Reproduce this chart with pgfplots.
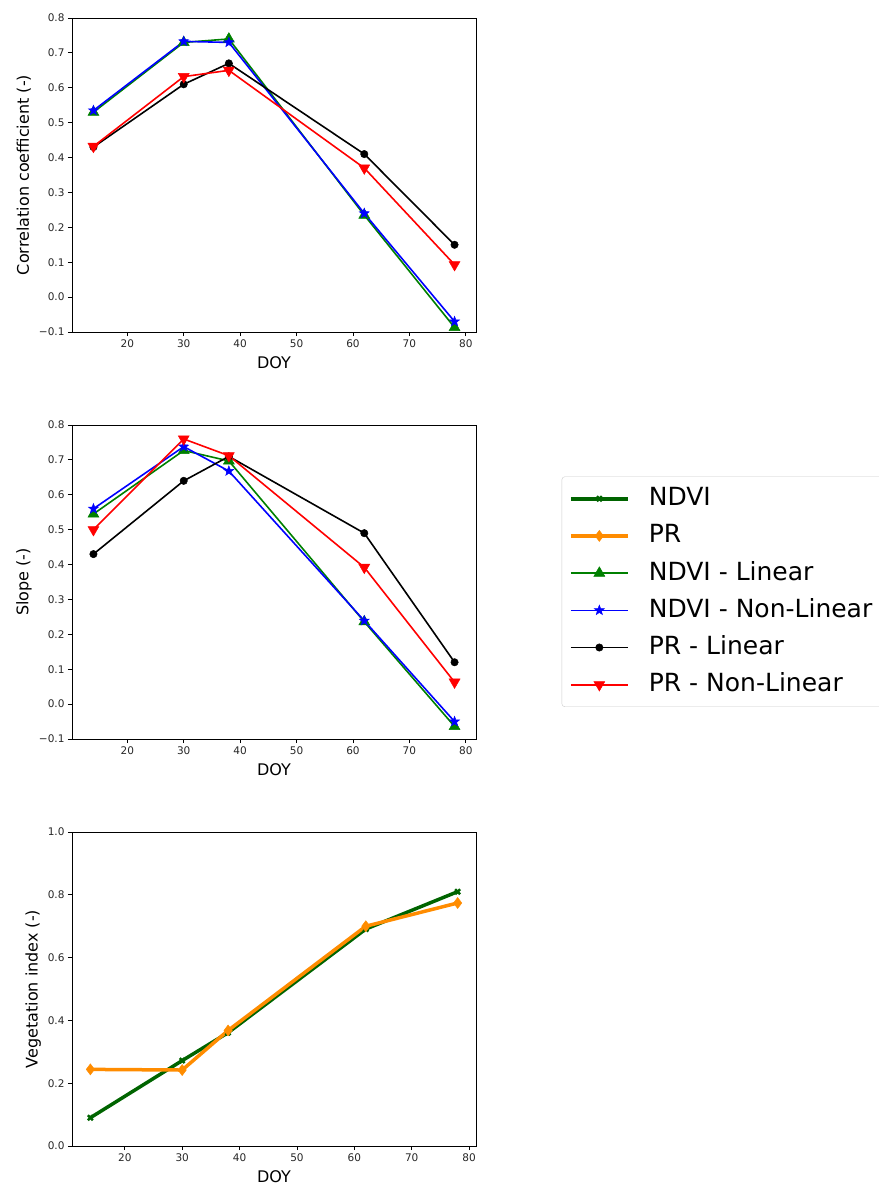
\documentclass[border=0pt]{standalone}
\usepackage{fontspec}
\setmainfont{DejaVu Sans}
\usepackage{pgfplots}
\pgfplotsset{compat=1.18}

\definecolor{mplgreen}{HTML}{008000}
\definecolor{dkgreen}{HTML}{006400}
\definecolor{dkorange}{HTML}{FF8C00}
\definecolor{mplblue}{HTML}{0000FF}
\definecolor{mplred}{HTML}{FF0000}

\pgfdeclareplotmark{fstar}{%
 \pgfpathmoveto{\pgfpointpolar{90}{\pgfplotmarksize}}%
 \pgfpathlineto{\pgfpointpolar{126}{0.42\pgfplotmarksize}}%
 \pgfpathlineto{\pgfpointpolar{162}{\pgfplotmarksize}}%
 \pgfpathlineto{\pgfpointpolar{198}{0.42\pgfplotmarksize}}%
 \pgfpathlineto{\pgfpointpolar{234}{\pgfplotmarksize}}%
 \pgfpathlineto{\pgfpointpolar{270}{0.42\pgfplotmarksize}}%
 \pgfpathlineto{\pgfpointpolar{306}{\pgfplotmarksize}}%
 \pgfpathlineto{\pgfpointpolar{342}{0.42\pgfplotmarksize}}%
 \pgfpathlineto{\pgfpointpolar{18}{\pgfplotmarksize}}%
 \pgfpathlineto{\pgfpointpolar{54}{0.42\pgfplotmarksize}}%
 \pgfpathclose
 \pgfusepathqfillstroke}

\pgfplotsset{
 mystyle/.style={
   scale only axis, width=404pt, height=314pt,
   xmin=10.2, xmax=81.8,
   xtick={20,30,...,80},
   tick align=outside, xtick pos=bottom, ytick pos=left,
   major tick length=4pt,
   tick style={black, line width=0.9pt},
   axis line style={line width=0.9pt},
   ticklabel style={font=\fontsize{10.5}{12}\selectfont, text=black!85},
   label style={font=\fontsize{16}{19}\selectfont},
   xlabel=DOY,
   xlabel style={at={(axis description cs:0.5,-0.099)}, anchor=center},
   ylabel style={at={(axis description cs:-0.119,0.5)}, anchor=center},
   /pgf/number format/assume math mode=true,
   legend image code/.code={\draw[mark repeat=2,mark phase=2,##1] plot coordinates {(0pt,0pt)(28.5pt,0pt)(57pt,0pt)};},
 },
 sgreen/.style={mplgreen, line width=1.6pt, mark=triangle*, mark size=6.3pt, mark options={solid, line width=0.5pt}},
 sblue/.style={mplblue, line width=1.6pt, mark=fstar, mark size=5.2pt, mark options={solid, line width=0.5pt}},
 sblack/.style={black, line width=1.6pt, mark=*, mark size=3.7pt, mark options={solid, line width=0.5pt}},
 sred/.style={mplred, line width=1.6pt, mark=triangle*, mark size=6.3pt, mark options={solid, rotate=180, line width=0.5pt}},
 sndvi/.style={dkgreen, line width=3.5pt, mark=x, mark size=3.5pt, mark options={solid, line width=2.5pt}},
 spr/.style={dkorange, line width=3.5pt, mark=diamond*, mark size=5.5pt, mark options={solid, line width=0.5pt}},
}

\begin{document}
\begin{tikzpicture}
\useasboundingbox (0pt,0pt) rectangle (878pt,-1185pt);

% ---------- Correlation coefficient ----------
\begin{axis}[mystyle,
  at={(72pt,-332pt)}, anchor=south west,
  ymin=-0.1, ymax=0.8,
  ytick={-0.1,0,0.1,0.2,0.3,0.4,0.5,0.6,0.7,0.8},
  yticklabels={−0.1,0.0,0.1,0.2,0.3,0.4,0.5,0.6,0.7,0.8},
  ylabel={Correlation coefficient (-)},
]
\addplot[sgreen] coordinates {(14,0.53)(30,0.73)(38,0.74)(62,0.235)(78,-0.087)};
\addplot[sblue] coordinates {(14,0.535)(30,0.733)(38,0.73)(62,0.24)(78,-0.07)};
\addplot[sblack] coordinates {(14,0.43)(30,0.61)(38,0.67)(62,0.41)(78,0.15)};
\addplot[sred] coordinates {(14,0.432)(30,0.632)(38,0.65)(62,0.37)(78,0.093)};
\end{axis}

% ---------- Slope ----------
\begin{axis}[mystyle,
  at={(72pt,-739pt)}, anchor=south west,
  ymin=-0.1, ymax=0.8,
  ytick={-0.1,0,0.1,0.2,0.3,0.4,0.5,0.6,0.7,0.8},
  yticklabels={−0.1,0.0,0.1,0.2,0.3,0.4,0.5,0.6,0.7,0.8},
  ylabel={Slope (-)},
  legend style={at={(axis description cs:1.212,0.836)}, anchor=north west,
    font=\fontsize{25}{29}\selectfont, draw=black!20, rounded corners=3pt,
    inner sep=7pt, row sep=7.2pt, column sep=0pt,
    nodes={text height=19pt, text depth=5pt, inner sep=3pt},
    /tikz/every odd column/.append style={column sep=16pt}},
  legend cell align=left,
]
\addlegendimage{sndvi, line width=4pt}
\addlegendentry{NDVI}
\addlegendimage{spr, line width=4pt}
\addlegendentry{PR}
\addplot[sgreen] coordinates {(14,0.545)(30,0.727)(38,0.697)(62,0.236)(78,-0.064)};
\addlegendentry{NDVI - Linear}
\addplot[sblue] coordinates {(14,0.56)(30,0.738)(38,0.668)(62,0.239)(78,-0.05)};
\addlegendentry{NDVI - Non-Linear}
\addplot[sblack] coordinates {(14,0.43)(30,0.64)(38,0.71)(62,0.49)(78,0.12)};
\addlegendentry{PR - Linear}
\addplot[sred] coordinates {(14,0.50)(30,0.76)(38,0.712)(62,0.392)(78,0.063)};
\addlegendentry{PR - Non-Linear}
\end{axis}

% ---------- Vegetation index ----------
\begin{axis}[mystyle,
  at={(72pt,-1146pt)}, anchor=south west,
  xmin=10.8, xmax=81.2,
  ymin=0, ymax=1,
  ytick={0,0.2,0.4,0.6,0.8,1.0},
  yticklabels={0.0,0.2,0.4,0.6,0.8,1.0},
  ylabel={Vegetation index (-)},
  ylabel style={at={(axis description cs:-0.096,0.5)}, anchor=center},
]
\addplot[sndvi] coordinates {(14,0.09)(30,0.272)(38,0.361)(62,0.691)(78,0.81)};
\addplot[spr] coordinates {(14,0.244)(30,0.242)(38,0.368)(62,0.70)(78,0.774)};
\end{axis}
\end{tikzpicture}
\end{document}
